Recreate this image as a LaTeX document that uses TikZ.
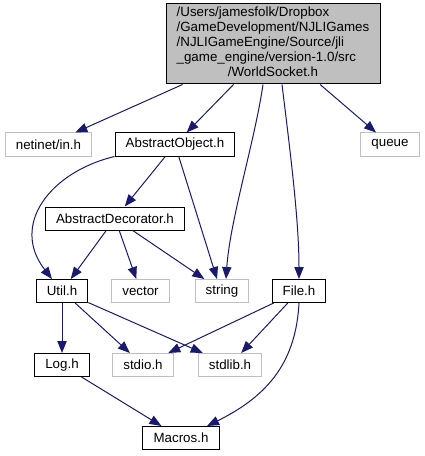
\documentclass[tikz,border=0pt]{standalone}
\usepackage{fontspec}
\setmainfont{Liberation Sans}
\usepackage{tikz}
\usetikzlibrary{arrows.meta, calc}
\definecolor{edgeBlue}{HTML}{191970}
\definecolor{extGrey}{HTML}{BFBFBF}
\definecolor{srcFill}{HTML}{BFBFBF}

\begin{document}
\begin{tikzpicture}[
  x=0.75pt, y=-0.75pt,
  font=\fontsize{10}{11.25}\selectfont,
  hdr/.style={draw=black, line width=0.75pt, inner xsep=8pt, inner ysep=0pt,
              minimum height=17.25pt, fill=white},
  ext/.style={draw=extGrey, line width=0.75pt, inner xsep=8pt, inner ysep=0pt,
              minimum height=17.25pt, fill=white},
  srcbox/.style={draw=black, line width=0.75pt, fill=srcFill, inner sep=0pt,
                 minimum width=160.5pt, minimum height=60pt},
  dep/.style={-{Triangle[length=9pt,width=7pt,fill=edgeBlue]}, line width=0.75pt, draw=edgeBlue}
]
\useasboundingbox (0,0) rectangle (424,456);

\node[srcbox] (world) at (273,44) {\begin{tabular}{@{}l@{}}
  /Users/jamesfolk/Dropbox\\
  /GameDevelopment/NJLIGames\\
  /NJLIGameEngine/Source/jli\\
  \_game\_engine/version-1.0/src\\
  \multicolumn{1}{@{}c@{}}{/WorldSocket.h}
\end{tabular}};

\node[ext] (netinet) at (48.5,144.5) {netinet/in.h};
\node[hdr] (absobj) at (175,144.5) {AbstractObject.h};
\node[ext] (queue) at (390,144.5) {queue};
\node[hdr] (absdec) at (115,218.5) {AbstractDecorator.h};
\node[hdr] (util) at (62,291) {Util.h};
\node[ext] (vector) at (140.5,291) {vector};
\node[ext] (string) at (222,291) {string};
\node[hdr] (file) at (299,291) {File.h};
\node[hdr] (log) at (62,365) {Log.h};
\node[ext] (stdio) at (143,365) {stdio.h};
\node[ext] (stdlib) at (230,365) {stdlib.h};
\node[hdr] (macros) at (181,438) {Macros.h};

% includes of WorldSocket.h
\draw[dep] (world) -- (netinet);
\draw[dep] (world) -- (absobj);
\draw[dep] ($(world.south)+(-10,0)$) .. controls (255,140) and (230,220) .. ($(string.north)+(4,0)$);
\draw[dep] ($(world.south)+(9,0)$) .. controls (290,150) and (299,220) .. (file.north);
\draw[dep] (world) -- (queue);

% AbstractObject.h
\draw[dep] (absobj.south west) .. controls (50,172) and (10,225) .. ($(util.north)+(-10,0)$);
\draw[dep] (absobj) -- (absdec);
\draw[dep] (absobj) -- ($(string.north)+(-5,0)$);

% AbstractDecorator.h
\draw[dep] (absdec) -- (util);
\draw[dep] (absdec) -- (vector);
\draw[dep] (absdec) -- (string);

% Util.h and File.h
\draw[dep] (util) -- (log);
\draw[dep] (util) -- (stdio);
\draw[dep] (util) -- (stdlib);
\draw[dep] (file) -- (stdio);
\draw[dep] (file) -- (stdlib);
\draw[dep] (file.south) .. controls (296,360) and (270,395) .. ($(macros.north)+(26,0)$);

% Log.h
\draw[dep] (log) -- (macros);
\end{tikzpicture}
\end{document}
